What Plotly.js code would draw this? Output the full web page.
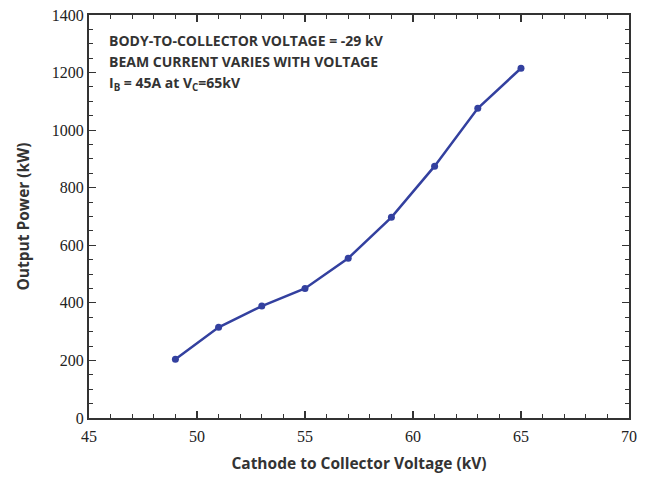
<!DOCTYPE html>
<html>
<head>
<meta charset="utf-8">
<script src="https://cdn.plot.ly/plotly-3.0.1.min.js"></script>
<style>html,body{margin:0;padding:0;background:#fff;}#chart{width:649px;height:479px;}</style>
</head>
<body>
<div id="chart"></div>
<script>
const voltageKV = [49, 51, 53, 55, 57, 59, 61, 63, 65];
const outputPowerKW = [204, 315, 389, 450, 555, 697, 875, 1076, 1215];
const xTickVals = [45, 50, 55, 60, 65, 70];
const yTickVals = [0, 200, 400, 600, 800, 1000, 1200, 1400];
const noteLines = [
  "BODY-TO-COLLECTOR VOLTAGE = -29 kV",
  "BEAM CURRENT VARIES WITH VOLTAGE",
  "I<sub>B</sub> = 45A at V<sub>C</sub>=65kV"
];

const lineColor = "#33409f";
const axisColor = "#333333";
const tickFont = {family: "Liberation Serif, DejaVu Serif, serif", size: 16, color: "#222"};
const titleFont = {family: "Open Sans, Arial, sans-serif", size: 15.5, color: "#333"};

const trace = {
  x: voltageKV,
  y: outputPowerKW,
  mode: "lines+markers",
  type: "scatter",
  line: {color: lineColor, width: 2.5},
  marker: {color: lineColor, size: 7},
  showlegend: false
};

const axisCommon = {
  showgrid: false,
  zeroline: false,
  showline: true,
  linecolor: axisColor,
  linewidth: 2,
  mirror: "ticks",
  ticks: "inside",
  ticklen: 7,
  tickwidth: 1.2,
  tickcolor: axisColor,
  tickfont: tickFont
};

const layout = {
  width: 649,
  height: 479,
  margin: {l: 89, r: 20, t: 15, b: 61},
  paper_bgcolor: "#ffffff",
  plot_bgcolor: "#ffffff",
  xaxis: Object.assign({}, axisCommon, {
    range: [45, 70],
    tickvals: xTickVals,
    ticktext: xTickVals.map(String),
    ticklabelstandoff: 3,
    minor: {dtick: 1, ticks: "inside", ticklen: 4, tickwidth: 1, tickcolor: axisColor},
    title: {text: "<b>Cathode to Collector Voltage (kV)</b>", font: titleFont, standoff: 14}
  }),
  yaxis: Object.assign({}, axisCommon, {
    range: [0, 1400],
    tickvals: yTickVals,
    ticktext: yTickVals.map(String),
    minor: {dtick: 50, ticks: "inside", ticklen: 4, tickwidth: 1, tickcolor: axisColor},
    title: {text: "<b>Output Power (kW)</b>", font: titleFont, standoff: 18}
  }),
  annotations: noteLines.map((t, i) => ({
    xref: "paper", yref: "paper",
    x: 0.033, y: 1 - (0.035 + i * 0.052),
    xanchor: "left", yanchor: "top",
    showarrow: false,
    align: "left",
    text: "<b>" + t + "</b>",
    font: {family: "Open Sans, Arial, sans-serif", size: 14, color: "#333"}
  }))
};

Plotly.newPlot("chart", [trace], layout, {displayModeBar: false, staticPlot: true});
</script>
</body>
</html>
